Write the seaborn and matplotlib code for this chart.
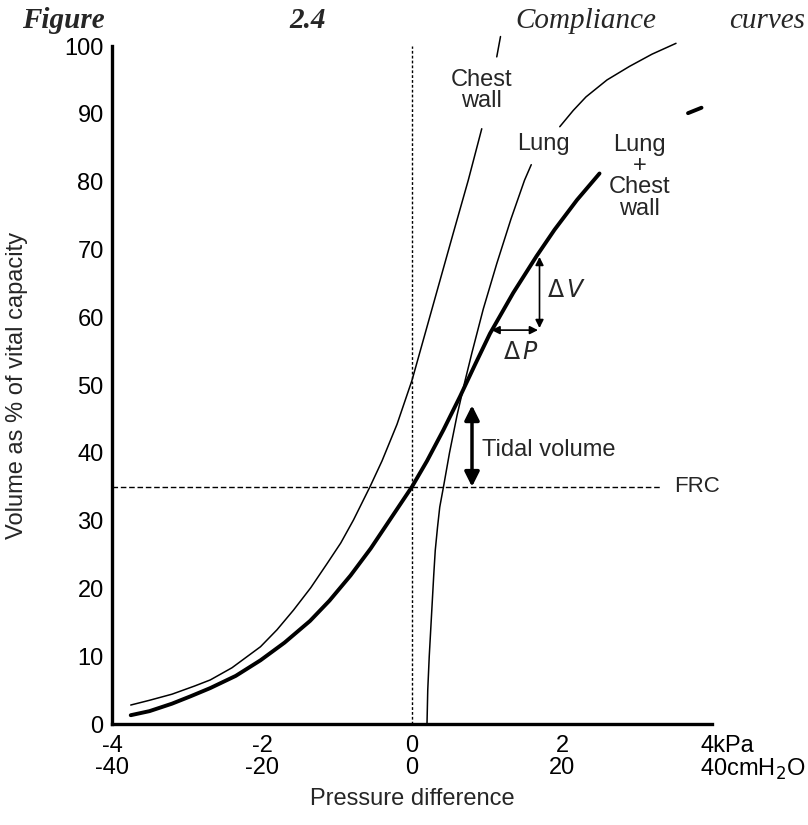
import matplotlib
matplotlib.use('Agg')
import matplotlib.pyplot as plt
import matplotlib.transforms as mtransforms
import seaborn as sns

# Curve points (pressure in kPa, volume in % VC)
chest_x = [-3.75, -3.5, -3.2, -2.9, -2.69, -2.4, -2.02, -1.8, -1.58, -1.35, -1.13, -0.95,
           -0.78, -0.56, -0.4, -0.2, 0.0, 0.18, 0.37, 0.55, 0.75, 0.93]
chest_y = [2.8, 3.5, 4.4, 5.6, 6.5, 8.3, 11.4, 13.9, 16.8, 20.1, 23.7, 26.7,
           30.1, 35.0, 38.8, 44.2, 50.7, 57.8, 65.3, 72.4, 80.2, 87.8]
chest_top_x = [1.13, 1.18]
chest_top_y = [98.4, 101.4]

combined_x = [-3.75, -3.5, -3.2, -2.95, -2.69, -2.35, -2.02, -1.7, -1.36, -1.1, -0.82, -0.55,
              -0.29, 0.0, 0.2, 0.42, 0.64, 0.84, 1.04, 1.35, 1.66, 1.9, 2.2, 2.5]
combined_y = [1.3, 1.9, 3.0, 4.1, 5.3, 7.1, 9.4, 12.0, 15.2, 18.2, 21.9, 25.9,
              30.2, 35.0, 38.8, 43.4, 48.3, 53.0, 57.6, 63.6, 69.0, 72.9, 77.3, 81.2]

lung_x = [0.2, 0.21, 0.23, 0.25, 0.27, 0.29, 0.31, 0.34, 0.37, 0.42, 0.5, 0.6, 0.7, 0.8,
          0.95, 1.13, 1.32, 1.5, 1.59]
lung_y = [0.0, 5.0, 10.0, 14.0, 18.0, 22.0, 25.6, 29.0, 32.0, 35.0, 40.0, 45.5, 50.3, 54.8,
          61.2, 67.9, 74.5, 80.2, 82.5]
lung_top_x = [1.97, 2.15, 2.32, 2.6, 2.9, 3.2, 3.52]
lung_top_y = [88.1, 90.5, 92.5, 95.0, 97.0, 98.8, 100.4]

stray_x = [3.68, 3.86]
stray_y = [90.1, 90.9]

frc = 35
tidal = (35, 47)
dv_x, dv_y = 1.70, (58.4, 68.9)
dp_y, dp_x = 58.1, (1.06, 1.68)

xticks = [-4, -2, 0, 2, 4]
xlabels = ['-4\n-40', '-2\n-20', '0\n0', '2\n20', '4kPa\n40cmH$_2$O']
yticks = [0, 10, 20, 30, 40, 50, 60, 70, 80, 90, 100]

sns.set_theme(style='white')
plt.rcParams['font.family'] = ['Liberation Sans', 'DejaVu Sans']

fig = plt.figure(figsize=(8.08, 8.25), dpi=100)
ax = fig.add_axes([0.1386, 0.1224, 0.7426, 0.8218])

thin = dict(color='black', lw=1.1, clip_on=False, estimator=None, sort=False)
thick = dict(color='black', lw=2.8, clip_on=False, estimator=None, sort=False)
sns.lineplot(x=chest_x, y=chest_y, ax=ax, **thin)
sns.lineplot(x=chest_top_x, y=chest_top_y, ax=ax, **thin)
sns.lineplot(x=lung_x, y=lung_y, ax=ax, **thin)
sns.lineplot(x=lung_top_x, y=lung_top_y, ax=ax, **thin)
sns.lineplot(x=combined_x, y=combined_y, ax=ax, **thick)
sns.lineplot(x=stray_x, y=stray_y, ax=ax, **thick)

# reference lines
ax.plot([-4, 3.3], [frc, frc], color='black', lw=1, ls=(0, (4, 2)))
ax.plot([0, 0], [0, 100], color='black', lw=1, ls=(0, (2, 1.5)))

# arrows
ax.annotate('', xy=(0.8, tidal[1]), xytext=(0.8, tidal[0]),
            arrowprops=dict(arrowstyle='<|-|>', color='black', lw=2.5,
                            mutation_scale=22, shrinkA=0, shrinkB=0))
ax.annotate('', xy=(dv_x, dv_y[0]), xytext=(dv_x, dv_y[1]),
            arrowprops=dict(arrowstyle='<|-|>', color='black', lw=1.2,
                            mutation_scale=12, shrinkA=0, shrinkB=0))
ax.annotate('', xy=(dp_x[0], dp_y), xytext=(dp_x[1], dp_y),
            arrowprops=dict(arrowstyle='<|-|>', color='black', lw=1.2,
                            mutation_scale=12, shrinkA=0, shrinkB=0))

fs = 17
ax.text(0.93, 40.4, 'Tidal volume', fontsize=fs, ha='left', va='center')
ax.text(3.5, 35, 'FRC', fontsize=fs - 1, ha='left', va='center')
ax.text(2.06, 63.8, r'$\Delta\,V$', fontsize=fs, ha='center', va='center')
ax.text(1.46, 54.7, r'$\Delta\,P$', fontsize=fs, ha='center', va='center')
ax.text(0.93, 93.5, 'Chest\nwall', fontsize=fs, ha='center', va='center', linespacing=0.95)
ax.text(1.75, 85.6, 'Lung', fontsize=fs, ha='center', va='center')
ax.text(3.03, 80.7, 'Lung\n+\nChest\nwall', fontsize=fs, ha='center', va='center', linespacing=0.95)

ax.set_xlim(-4, 4)
ax.set_ylim(0, 100)
ax.set_xticks(xticks)
ax.set_xticklabels(xlabels, fontsize=fs, linespacing=1.0)
ax.set_yticks(yticks)
ax.set_yticklabels([str(v) for v in yticks], fontsize=fs)
ax.tick_params(direction='in', length=14, width=1.6, colors='black', pad=6)
ax.tick_params(axis='x', pad=8)

# last tick label starts just left of its tick
last = ax.get_xticklabels()[-1]
last.set_horizontalalignment('left')
last.set_transform(last.get_transform() +
                   mtransforms.ScaledTranslation(-12 / 100, 0, fig.dpi_scale_trans))

sns.despine(ax=ax)
for s in ['left', 'bottom']:
    ax.spines[s].set_linewidth(2.4)
    ax.spines[s].set_color('black')

ax.set_xlabel('Pressure difference', fontsize=fs, labelpad=4)
ax.set_ylabel('Volume as % of vital capacity', fontsize=fs, labelpad=26)

# justified title
tfont = dict(family='Liberation Serif', style='italic', fontsize=21, va='baseline')
fig.text(22 / 808, 1 - 28 / 825, 'Figure', weight='bold', ha='left', **tfont)
fig.text(308 / 808, 1 - 28 / 825, '2.4', weight='bold', ha='center', **tfont)
fig.text(586 / 808, 1 - 28 / 825, 'Compliance', ha='center', **tfont)
fig.text(805 / 808, 1 - 28 / 825, 'curves', ha='right', **tfont)

fig.savefig('out.png', dpi=100, facecolor='white')
